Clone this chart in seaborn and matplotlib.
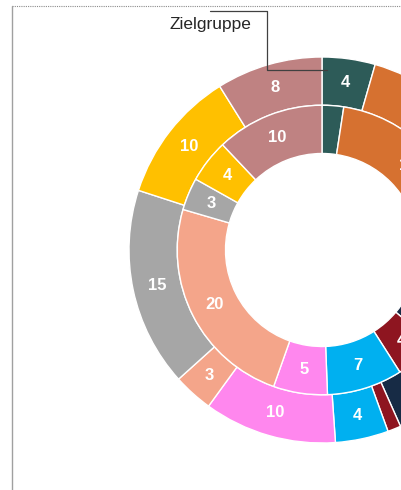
import matplotlib
matplotlib.use("Agg")
import matplotlib.pyplot as plt
import seaborn as sns
from matplotlib.lines import Line2D

sns.set_theme(style="white")
plt.rcParams["font.family"] = ["Liberation Sans", "DejaVu Sans"]

# Kategorien im Uhrzeigersinn ab 12 Uhr
kategorien = ["A", "B", "C", "D", "E", "F", "G", "H", "I", "J"]
farben = ["#2D5B58", "#D67130", "#172B45", "#8E1520", "#00B0F0",
          "#FF87EE", "#F4A58A", "#A6A6A6", "#FFC000", "#BF8282"]
aussen = [4, 20, 15, 1, 4, 10, 3, 15, 10, 8]
innen = [2, 17, 11, 4, 7, 5, 20, 3, 4, 10]
serie_name = "Zielgruppe"

W, H = 401, 490
CX, CY, R = 322, 250, 193

fig = plt.figure(figsize=(W / 100, H / 100), dpi=100)
ax = fig.add_axes([(CX - R) / W, (H - CY - R) / H, 2 * R / W, 2 * R / H])
palette = sns.color_palette(farben)


def beschriftung(werte):
    summe = sum(werte)

    def fmt(p):
        v = int(round(p * summe / 100))
        return f"{v}" if v > 2 else ""
    return fmt


keil = dict(width=0.25, edgecolor="white", linewidth=1)
txt = dict(color="white", fontsize=12, fontweight="bold")

ax.pie(aussen, radius=1.0, colors=palette, startangle=90, counterclock=False,
       wedgeprops=keil, autopct=beschriftung(aussen), pctdistance=0.875,
       textprops=txt)
ax.pie(innen, radius=0.75, colors=palette, startangle=90, counterclock=False,
       wedgeprops=keil, autopct=beschriftung(innen), pctdistance=0.625 / 0.75,
       textprops=txt)
ax.set_xlim(-1, 1)
ax.set_ylim(-1, 1)
ax.set_aspect("equal")
ax.axis("off")


def px(x, y):
    return (x - CX) / R, (CY - y) / R


# Beschriftung der Datenreihe mit Führungslinie
pts = [px(210, 11), px(267, 11), px(267, 70), px(327, 70)]
ax.plot([p[0] for p in pts], [p[1] for p in pts], color="#404040",
        linewidth=0.9, clip_on=False, zorder=5)
tx, ty = px(210, 24)
ax.text(tx, ty, serie_name, ha="center", va="center", fontsize=12.5,
        color="#262626", clip_on=False)

# Rahmen des Diagrammbereichs
fig.add_artist(Line2D([12 / W, 1], [1 - 6 / H, 1 - 6 / H], color="#8C8C8C",
                      linewidth=0.8, linestyle=(0, (1, 1)),
                      transform=fig.transFigure))
fig.add_artist(Line2D([12 / W, 12 / W], [0, 1 - 6 / H], color="#A0A0A0",
                      linewidth=1.0, transform=fig.transFigure))

fig.savefig("out.png", dpi=100)
